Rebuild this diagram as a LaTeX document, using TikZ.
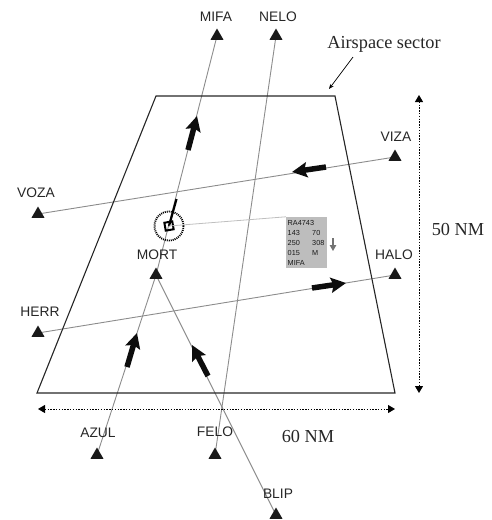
\documentclass[tikz,border=0pt]{standalone}
\usepackage{fontspec}
\setmainfont{Liberation Serif}
\setsansfont{Liberation Sans}
\usetikzlibrary{arrows.meta,shapes.geometric}
\pgfdeclarelayer{routes}
\pgfsetlayers{routes,main}
\definecolor{routegray}{gray}{0.55}
\definecolor{boxgray}{gray}{0.74}
\newcommand{\wpt}[5]{\node[wptmark] (#1) at (#2,#3) {}; \node[wptlabel] (#1L) at (#4,#5) {#1};}
\tikzset{
 wptmark/.style={regular polygon,regular polygon sides=3,fill=black!90,draw=none,inner sep=0pt,minimum size=15pt},
 wptlabel/.style={font=\sffamily\fontsize{13.8}{15}\selectfont,text=black!85,inner sep=0pt},
 route/.style={draw=routegray,line width=0.9pt},
 sector/.style={draw=black!85,line width=1.1pt},
 heading/.style={line width=5.5pt,-{Stealth[length=15pt,width=15pt,inset=2.5pt]},black!95},
 dimension/.style={line width=1pt,dash pattern=on 1.5pt off 1.3pt,{Triangle[length=7pt,width=8pt]}-{Triangle[length=7pt,width=8pt]},black},
 serif/.style={font=\rmfamily\fontsize{18.3}{20}\selectfont,text=black!85,inner sep=0pt},
 tag/.style={font=\sffamily\fontsize{7.3}{8.5}\selectfont,text=black!90,inner sep=0pt,anchor=west}
}
\begin{document}
\begin{tikzpicture}[x=1pt,y=-1pt]
\useasboundingbox (0,0) rectangle (492,520);
\coordinate (s1) at (156,96);
\coordinate (s2) at (335,96);
\coordinate (s3) at (395,393);
\coordinate (s4) at (37,393);
\draw[sector] (s1) -- (s2) -- (s3) -- (s4) -- cycle;
\wpt{MIFA}{217}{36}{216}{17}
\wpt{NELO}{276}{36}{278}{17}
\wpt{VIZA}{395}{157}{396}{137}
\wpt{VOZA}{38}{214}{36}{193}
\wpt{MORT}{156}{275}{157}{255}
\wpt{HALO}{395}{275}{394}{255}
\wpt{HERR}{38}{333}{40}{312}
\wpt{AZUL}{97}{455}{98}{433}
\wpt{FELO}{215}{455}{215}{432}
\wpt{BLIP}{276}{515}{278}{494}
\begin{pgfonlayer}{routes}
\draw[route] (AZUL.center) -- (MORT.center);
\draw[route] (MORT.center) -- (MIFA.center);
\draw[route] (MORT.center) -- (BLIP.center);
\draw[route] (FELO.center) -- (NELO.center);
\draw[route] (VOZA.center) -- (VIZA.center);
\draw[route] (HERR.center) -- (HALO.center);
\end{pgfonlayer}
\coordinate (h1a) at (188,150); \coordinate (h1b) at (197,116);
\coordinate (h2a) at (326,167); \coordinate (h2b) at (292,172);
\coordinate (h3a) at (312,288); \coordinate (h3b) at (346,283);
\coordinate (h4a) at (127,367); \coordinate (h4b) at (137,333);
\coordinate (h5a) at (208,376); \coordinate (h5b) at (192,345);
\draw[heading] (h1a) -- (h1b);
\draw[heading] (h2a) -- (h2b);
\draw[heading] (h3a) -- (h3b);
\draw[heading] (h4a) -- (h4b);
\draw[heading] (h5a) -- (h5b);
% aircraft and data tag
\node[draw=black,line width=2pt,minimum size=8pt,inner sep=0pt,rotate=10] (ac) at (169,226) {};
\node[circle,draw=black,line width=1.9pt,dash pattern=on 1pt off 1pt,minimum size=29pt,inner sep=0pt] (ring) at (169,226) {};
\coordinate (vec) at (176.5,199);
\draw[line width=2.2pt,black] (ac.center) -- (vec);
\node[fill=boxgray,minimum width=41pt,minimum height=51pt,inner sep=0pt] (tag) at (306.5,242.5) {};
\draw[black!25,line width=0.8pt] (ac.center) -- (tag.north west);
\node[tag] (t1) at (287.5,223) {RA4743};
\node[tag] (t2) at (287.5,233) {143};
\node[tag] (t3) at (312,233) {70};
\node[tag] (t4) at (287.5,243) {250};
\node[tag] (t5) at (312,243) {308};
\node[tag] (t6) at (287.5,253) {015};
\node[tag] (t7) at (312,253) {M};
\node[tag] (t8) at (287.5,263) {MIFA};
\coordinate (d1) at (333,238); \coordinate (d2) at (333,251);
\draw[black!55,line width=1.2pt,-{Triangle[length=6pt,width=6.5pt]}] (d1) -- (d2);
% sector label
\node[serif] (lab) at (384,44) {Airspace sector};
\coordinate (labtip) at (329,89);
\coordinate (labtail) at (353,57);
\draw[line width=0.7pt,black,-{Stealth[length=5pt,width=4pt]}] (labtail) -- (labtip);
% dimensions
\coordinate (v1) at (419,95); \coordinate (v2) at (419,393);
\draw[dimension] (v1) -- (v2);
\node[serif] (nm50) at (458,229) {50 NM};
\coordinate (w1) at (38,409); \coordinate (w2) at (395,409);
\draw[dimension] (w1) -- (w2);
\node[serif] (nm60) at (308,436) {60 NM};
\end{tikzpicture}
\end{document}
